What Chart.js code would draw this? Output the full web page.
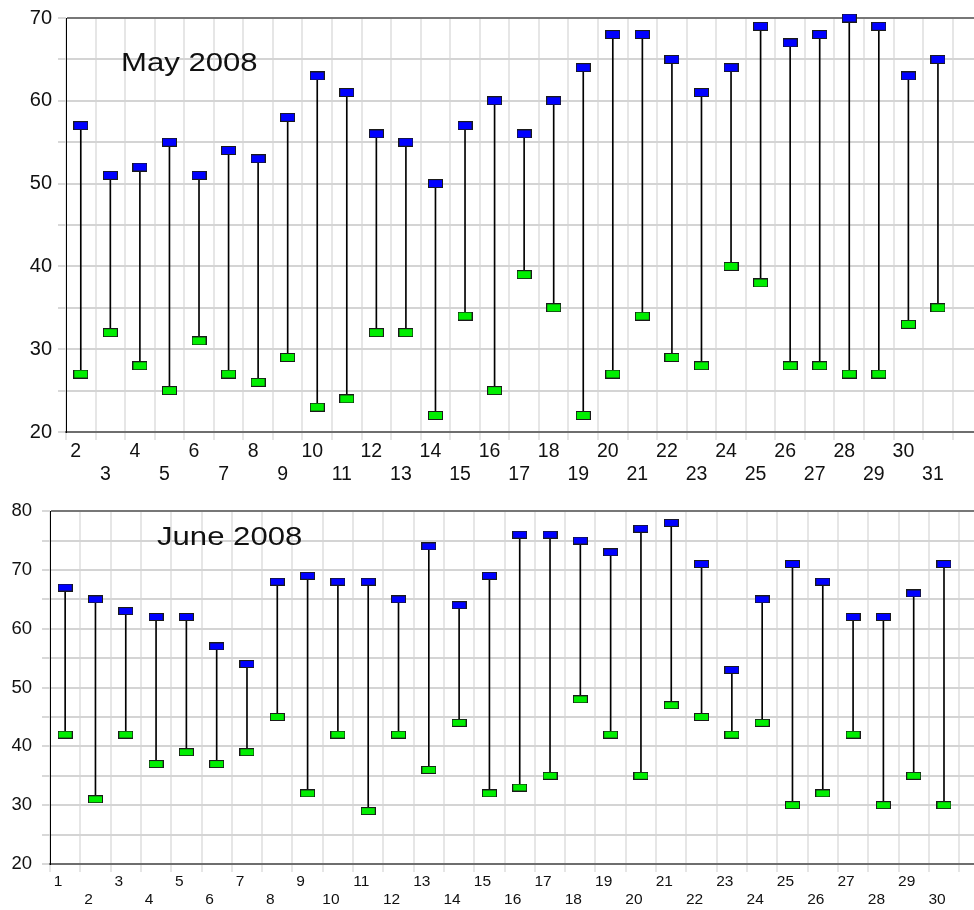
<!DOCTYPE html>
<html><head><meta charset="utf-8">
<script src="https://cdn.jsdelivr.net/npm/chart.js@4.4.1/dist/chart.umd.min.js"></script>
<style>
html,body{margin:0;padding:0;background:#fff;overflow:hidden;width:974px;height:910px;}
#wrap{position:relative;width:974px;height:910px;}
canvas{position:absolute;left:0;}
#c1{top:0;}
#c2{top:490px;}
.ttl{position:absolute;font-family:"Liberation Sans",Arial,sans-serif;font-size:25.5px;line-height:1;color:#111;transform:scaleX(1.22);transform-origin:0 0;white-space:nowrap;}
</style></head><body>
<div id="wrap">
<canvas id="c1" width="974" height="490"></canvas>
<canvas id="c2" width="974" height="420"></canvas>
<div class="ttl" id="t1" style="left:121px;top:50px"></div>
<div class="ttl" id="t2" style="left:157px;top:524px"></div>
</div>
<script>
const mayTitle = 'May 2008';
const mayDays  = [2,3,4,5,6,7,8,9,10,11,12,13,14,15,16,17,18,19,20,21,22,23,24,25,26,27,28,29,30,31];
const mayHigh  = [57,51,52,55,51,54,53,58,63,61,56,55,50,57,60,56,60,64,68,68,65,61,64,69,67,68,70,69,63,65];
const mayLow   = [27,32,28,25,31,27,26,29,23,24,32,32,22,34,25,39,35,22,27,34,29,28,40,38,28,28,27,27,33,35];
const mayYLabels = [20,30,40,50,60,70];

const juneTitle = 'June 2008';
const juneDays = [1,2,3,4,5,6,7,8,9,10,11,12,13,14,15,16,17,18,19,20,21,22,23,24,25,26,27,28,29,30];
const juneHigh = [67,65,63,62,62,57,54,68,69,68,68,65,74,64,69,76,76,75,73,77,78,71,53,65,71,68,62,62,66,71];
const juneLow  = [42,31,42,37,39,37,39,45,32,42,29,42,36,44,32,33,35,48,42,35,47,45,42,44,30,32,42,30,35,30];
const juneYLabels = [20,30,40,50,60,70,80];

document.getElementById('t1').textContent = mayTitle;
document.getElementById('t2').textContent = juneTitle;

function marker(fill, w, h){
  const c = document.createElement('canvas');
  c.width = w; c.height = h;
  const g = c.getContext('2d');
  g.fillStyle = fill; g.fillRect(0,0,w,h);
  g.strokeStyle = '#1a1a1a'; g.lineWidth = 1;
  g.strokeRect(0.5,0.5,w-1,h-1);
  return c;
}

function makeChart(id, days, high, low, yLabels, o){
  const yMin = yLabels[0], yMax = yLabels[yLabels.length-1];
  const font = '"Liberation Sans", Arial, sans-serif';
  return new Chart(document.getElementById(id), {
    type: 'bar',
    data: {
      datasets: [
        { type:'line', data: days.map((d,i)=>({x:d,y:high[i]})), showLine:false,
          pointStyle: marker('#0000ff', 15, o.mh), pointRadius:5, pointHoverRadius:5, clip:false, order:0 },
        { type:'line', data: days.map((d,i)=>({x:d,y:low[i]})), showLine:false,
          pointStyle: marker('#00ee00', 15, o.mh), pointRadius:5, pointHoverRadius:5, clip:false, order:0 },
        { type:'bar', data: days.map((d,i)=>({x:d,y:[low[i],high[i]]})),
          backgroundColor:'#000', borderWidth:0, barThickness:1, order:1 }
      ]
    },
    options: {
      responsive:false, animation:false, devicePixelRatio:1,
      layout:{ autoPadding:false, padding:{ top:o.top, left:0, right:0, bottom:0 } },
      plugins:{ legend:{display:false}, tooltip:{enabled:false} },
      events: [],
      scales: {
        x: {
          type:'linear', min:o.xMin, max:o.xMax, offset:false,
          afterBuildTicks: s => { s.ticks = days.map(d=>({value:d})); },
          afterFit: s => { s.height = o.xh; },
          grid:{ offset:true, color:'#e6e6e6', lineWidth:2, tickLength:8, tickColor:'#e6e6e6' },
          border:{ display:true, color:'#6e6e6e', width:2 },
          ticks:{ autoSkip:false, maxRotation:0, minRotation:0, padding:o.xpad, labelOffset:o.lo, color:'#111',
            font:{ family:font, size:o.xfs, lineHeight:o.xlh },
            callback:(v,i)=> i%2===0 ? [String(days[i]), ''] : ['', String(days[i])] }
        },
        y: {
          min:yMin, max:yMax,
          afterFit: s => { s.width = o.left; },
          grid:{ color: c => (c.tick && (c.tick.value===yMax || c.tick.value===yMin)) ? '#777' : '#d4d4d4',
                 lineWidth: 2, tickLength:8, tickColor:'#d8d8d8' },
          border:{ display:true, color:'#000', width:1 },
          ticks:{ stepSize:5, padding:o.ypad, color:'#111', font:{ family:font, size:o.yfs },
            callback: v => yLabels.includes(v) ? String(v) : '' }
        }
      }
    }
  });
}

makeChart('c1', mayDays, mayHigh, mayLow, mayYLabels, {
  top:16, left:66, xh:58, xMin:1.5, xMax:32.22, mh:9,
  xpad:0, lo:-5, xfs:19.5, xlh:1.18, ypad:6, yfs:20
});
makeChart('c2', juneDays, juneHigh, juneLow, juneYLabels, {
  top:11, left:50, xh:46, xMin:0.5, xMax:30.99, mh:8,
  xpad:1, lo:-7, xfs:15.5, xlh:1.16, ypad:10, yfs:18.5
});
</script>
</body></html>
